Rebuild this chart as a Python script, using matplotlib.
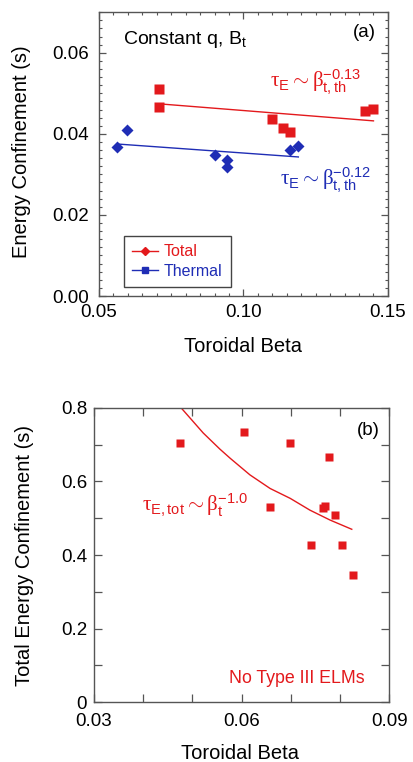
import numpy as np
import matplotlib.pyplot as plt
from matplotlib.ticker import MultipleLocator, FixedLocator, FixedFormatter
from matplotlib.lines import Line2D

plt.rcParams['font.family'] = ['Liberation Sans', 'DejaVu Sans']
plt.rcParams['mathtext.fontset'] = 'custom'
plt.rcParams['mathtext.rm'] = 'Liberation Sans'
plt.rcParams['mathtext.it'] = 'Liberation Sans:italic'
plt.rcParams['mathtext.sf'] = 'Liberation Sans'
plt.rcParams['mathtext.cal'] = 'Liberation Serif'

RED = '#e3191c'
BLUE = '#1f2db5'
FRAME = '#555555'

# panel (a): energy confinement vs toroidal beta
beta_total = [0.0708, 0.0708, 0.1099, 0.1136, 0.1162, 0.1420, 0.1450]
tau_total = [0.0511, 0.0467, 0.0437, 0.0415, 0.0405, 0.0457, 0.0462]
beta_thermal = [0.0562, 0.0597, 0.0902, 0.0943, 0.0943, 0.1160, 0.1190]
tau_thermal = [0.0368, 0.0410, 0.0348, 0.0336, 0.0319, 0.0360, 0.0370]
fit_total_x = [0.0708, 0.1450]
fit_total_y = [0.0474, 0.0432]
fit_thermal_x = [0.0562, 0.1190]
fit_thermal_y = [0.0375, 0.0343]

# panel (b): total energy confinement, no type III ELMs
beta_b = [0.0475, 0.0605, 0.0699, 0.0778, 0.0658, 0.0766, 0.0770, 0.0790,
          0.0741, 0.0804, 0.0827]
tau_b = [0.705, 0.735, 0.705, 0.667, 0.531, 0.528, 0.533, 0.509,
         0.427, 0.427, 0.346]
fit_b_x = [0.0478, 0.0522, 0.0556, 0.0577, 0.0617, 0.0658, 0.0699,
           0.0739, 0.0780, 0.0824]
fit_b_y = [0.799, 0.732, 0.688, 0.663, 0.618, 0.581, 0.554,
           0.522, 0.495, 0.470]

fig = plt.figure(figsize=(4.14, 7.62), dpi=100)
ax1 = fig.add_axes([0.239, 0.6115, 0.698, 0.3725])
ax2 = fig.add_axes([0.227, 0.0787, 0.713, 0.3859])

for ax in (ax1, ax2):
    for s in ax.spines.values():
        s.set_color(FRAME)
        s.set_linewidth(1.0)
    ax.tick_params(which='both', direction='in', top=True, right=True,
                   color=FRAME, labelsize=13.5)
    ax.tick_params(axis='x', pad=6)
    ax.tick_params(axis='y', pad=7)
    ax.tick_params(which='major', length=5, width=0.9)
    ax.tick_params(which='minor', length=2.5, width=0.8)

# ---- (a)
ax1.plot(fit_total_x, fit_total_y, '-', color=RED, lw=1.0)
ax1.plot(fit_thermal_x, fit_thermal_y, '-', color=BLUE, lw=1.0)
ax1.plot(beta_total, tau_total, 's', color=RED, ms=7, mec='none')
ax1.plot(beta_thermal, tau_thermal, 'D', color=BLUE, ms=6, mec='none')
ax1.set_xlim(0.05, 0.15)
ax1.set_ylim(0, 0.07)
ax1.xaxis.set_major_locator(FixedLocator([0.05, 0.10, 0.15]))
ax1.xaxis.set_major_formatter(FixedFormatter(['0.05', '0.10', '0.15']))
ax1.xaxis.set_minor_locator(MultipleLocator(0.005))
ax1.yaxis.set_major_locator(FixedLocator([0.0, 0.02, 0.04, 0.06]))
ax1.yaxis.set_major_formatter(FixedFormatter(['0.00', '0.02', '0.04', '0.06']))
ax1.yaxis.set_minor_locator(MultipleLocator(0.002))
ax1.set_xlabel('Toroidal Beta', fontsize=14.5)
ax1.set_ylabel('Energy Confinement (s)', fontsize=14.5)
ax1.xaxis.set_label_coords(0.5, -0.144)
ax1.yaxis.set_label_coords(-0.235, 0.51)

ax1.text(0.0583, 0.0632, r'Constant q, B$_\mathrm{t}$', fontsize=14,
         va='center', ha='left')
ax1.text(0.1460, 0.0650, '(a)', fontsize=13.5, va='center', ha='right')
ax1.text(0.1092, 0.0528,
         r'$\mathcal{τ}_{\mathrm{E}} \sim \mathcal{β}_{\mathrm{t,th}}^{\mathrm{-0.13}}$',
         color=RED, fontsize=15, va='center', ha='left')
ax1.text(0.1126, 0.0286,
         r'$\mathcal{τ}_{\mathrm{E}} \sim \mathcal{β}_{\mathrm{t,th}}^{\mathrm{-0.12}}$',
         color=BLUE, fontsize=15, va='center', ha='left')

handles = [Line2D([], [], color=RED, marker='D', ms=4, lw=1.0),
           Line2D([], [], color=BLUE, marker='s', ms=4, lw=1.0)]
leg = ax1.legend(handles, ['Total', 'Thermal'], loc='lower left',
                 bbox_to_anchor=(0.087, 0.032), borderaxespad=0,
                 fontsize=11.5, fancybox=False,
                 edgecolor='#444444', handlelength=1.6, handletextpad=0.4,
                 borderpad=0.5, labelspacing=0.3, framealpha=1)
leg.get_frame().set_linewidth(1.0)
leg.get_texts()[0].set_color(RED)
leg.get_texts()[1].set_color(BLUE)

# ---- (b)
ax2.plot(fit_b_x, fit_b_y, '-', color=RED, lw=1.0)
ax2.plot(beta_b, tau_b, 's', color=RED, ms=6, mec='none')
ax2.set_xlim(0.03, 0.09)
ax2.set_ylim(0, 0.8)
ax2.set_xticks([0.03, 0.04, 0.05, 0.06, 0.07, 0.08, 0.09])
ax2.set_xticklabels(['0.03', '', '', '0.06', '', '', '0.09'])
ax2.set_yticks([0, 0.1, 0.2, 0.3, 0.4, 0.5, 0.6, 0.7, 0.8])
ax2.set_yticklabels(['0', '', '0.2', '', '0.4', '', '0.6', '', '0.8'])
ax2.tick_params(which='major', length=6)
ax2.tick_params(axis='x', pad=8)
ax2.tick_params(axis='y', pad=5)
ax2.set_xlabel('Toroidal Beta', fontsize=14.5)
ax2.set_ylabel('Total Energy Confinement (s)', fontsize=14.5)
ax2.xaxis.set_label_coords(0.495, -0.143)
ax2.yaxis.set_label_coords(-0.203, 0.5)

ax2.text(0.0880, 0.740, '(b)', fontsize=13.5, va='center', ha='right')
ax2.text(0.0398, 0.536,
         r'$\mathcal{τ}_{\mathrm{E,tot}} \sim \mathcal{β}_{\mathrm{t}}^{\mathrm{-1.0}}$',
         color=RED, fontsize=15, va='center', ha='left')
ax2.text(0.0851, 0.065, 'No Type III ELMs', color=RED, fontsize=12.8,
         va='center', ha='right')

fig.savefig('out.png', dpi=100)
